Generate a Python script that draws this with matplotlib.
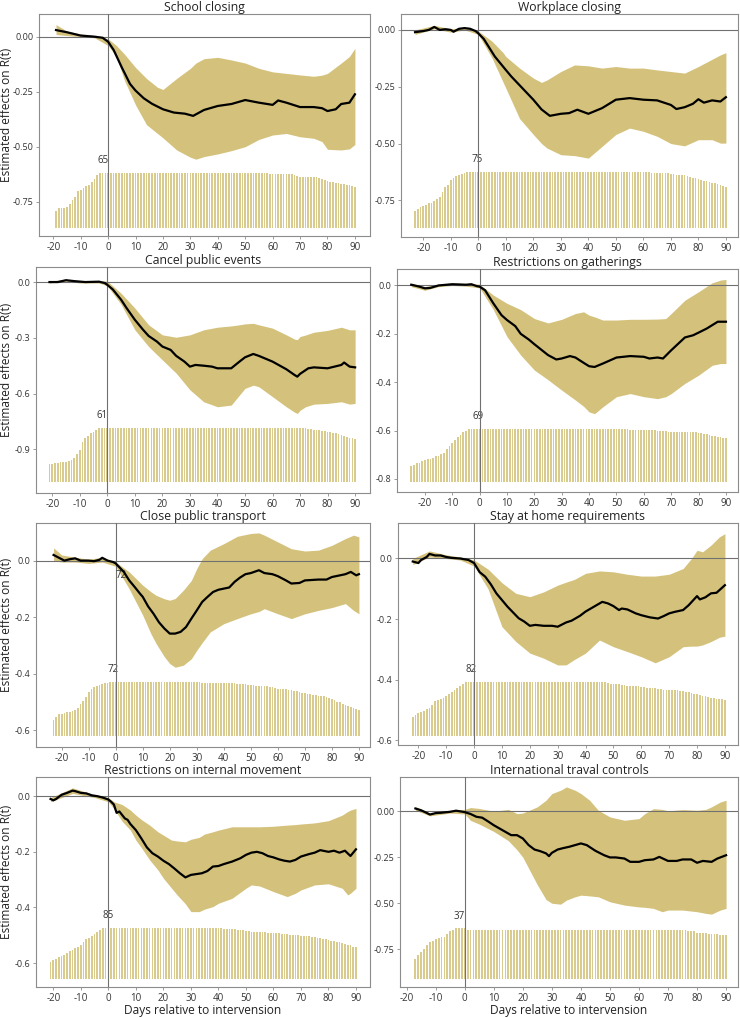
import matplotlib
matplotlib.use("Agg")
import matplotlib.pyplot as plt
import numpy as np

plt.rcParams["font.family"] = ["Open Sans", "DejaVu Sans"]
plt.rcParams["axes.unicode_minus"] = False

W, H = 740, 1018
FILL = "#d4c27c"
BAR = "#d9ca8e"
FRAME = "#8c8c8c"

# ---- School closing ----
school_t = [-19, -15, -10, -5, -2, 0, 2, 5, 8, 10, 13, 16, 20, 24, 28, 31, 35, 40, 45, 50, 55, 60,
            62, 65, 70, 75, 78, 80, 83, 85, 88, 90]
school_mean = [0.03, 0.02, 0.005, 0.0, -0.005, -0.023, -0.06, -0.14, -0.215, -0.245, -0.28, -0.305,
               -0.33, -0.345, -0.35, -0.36, -0.333, -0.315, -0.306, -0.288, -0.30, -0.31,
               -0.29, -0.30, -0.32, -0.32, -0.325, -0.338, -0.33, -0.306, -0.30, -0.262]
school_band_t = [-19, -15, -10, -5, 0, 3, 6, 10, 14, 18, 20, 25, 30, 32, 35, 40, 45, 50, 55, 60, 65,
                 70, 75, 78, 80, 85, 88, 90]
school_hi = [0.055, 0.025, 0.012, 0.005, -0.01, -0.04, -0.08, -0.14, -0.19, -0.23, -0.24, -0.19,
             -0.144, -0.12, -0.10, -0.094, -0.106, -0.12, -0.144, -0.16, -0.167, -0.174, -0.18,
             -0.175, -0.167, -0.12, -0.09, -0.053]
school_lo = [0.01, 0.005, 0.0, -0.005, -0.04, -0.09, -0.2, -0.31, -0.40, -0.44, -0.46, -0.515,
             -0.548, -0.557, -0.545, -0.533, -0.518, -0.50, -0.467, -0.447, -0.44, -0.455, -0.462,
             -0.477, -0.512, -0.515, -0.51, -0.49]
school_first = -19
school_n = [20, 23, 24, 24, 25, 28, 33, 37, 44, 45,
            47, 49, 51, 54, 57, 62, 65, 65, 65, 65,
            65, 65, 65, 65, 65, 65, 65, 65, 65, 65,
            65, 65, 65, 65, 65, 65, 65, 65, 65, 65,
            65, 65, 65, 65, 65, 65, 65, 65, 65, 65,
            65, 65, 65, 65, 65, 65, 65, 65, 65, 65,
            65, 65, 65, 65, 65, 65, 65, 65, 65, 65,
            65, 65, 65, 65, 64, 64, 64, 64, 63, 63,
            63, 63, 63, 63, 63, 63, 63, 62, 61, 60,
            60, 60, 60, 60, 60, 60, 59, 58, 56, 55,
            54, 54, 53, 53, 52, 52, 51, 50, 49, 48]

# ---- Workplace closing ----
work_t = [-23, -20, -18, -16, -14, -12, -10, -9, -7, -5, -3, -1, 0, 2, 6, 10, 12, 16, 20, 23, 26,
          30, 33, 36, 40, 45, 50, 55, 60, 65, 70, 72, 75, 78, 80, 82, 85, 88, 90]
work_mean = [-0.01, -0.005, 0.0, 0.013, 0.0, 0.003, 0.0, -0.008, 0.005, 0.008, 0.005, -0.005,
             -0.015, -0.04, -0.117, -0.176, -0.205, -0.256, -0.307, -0.35, -0.378, -0.369, -0.366,
             -0.351, -0.369, -0.344, -0.307, -0.30, -0.307, -0.31, -0.33, -0.348, -0.34, -0.325,
             -0.305, -0.32, -0.31, -0.315, -0.296]
work_band_t = [-23, -16, -10, -5, 0, 5, 9, 10, 15, 20, 23, 25, 30, 35, 40, 45, 50, 55, 60, 65, 70,
               75, 80, 85, 88, 90]
work_hi = [0.0, 0.02, 0.005, 0.01, -0.005, -0.05, -0.10, -0.117, -0.168, -0.212, -0.231, -0.22,
           -0.183, -0.154, -0.158, -0.168, -0.161, -0.168, -0.168, -0.176, -0.183, -0.19, -0.161,
           -0.129, -0.11, -0.10]
work_lo = [-0.02, 0.005, -0.01, 0.0, -0.02, -0.124, -0.23, -0.256, -0.39, -0.46, -0.50, -0.52,
           -0.549, -0.553, -0.564, -0.512, -0.46, -0.432, -0.446, -0.468, -0.50, -0.51, -0.483,
           -0.483, -0.498, -0.498]
work_first = -23
work_n = [23, 26, 28, 29, 31, 33, 34, 36, 39, 42,
          49, 55, 58, 65, 67, 70, 72, 73, 74, 75,
          75, 75, 75, 75, 75, 75, 75, 75, 75, 75,
          75, 75, 75, 75, 75, 75, 75, 75, 75, 75,
          75, 75, 75, 75, 75, 75, 75, 75, 75, 75,
          75, 75, 75, 75, 75, 75, 75, 75, 75, 75,
          75, 75, 75, 75, 75, 75, 75, 75, 75, 75,
          75, 75, 75, 75, 75, 75, 75, 75, 75, 75,
          75, 75, 75, 75, 75, 75, 74, 74, 74, 74,
          74, 74, 74, 73, 73, 72, 72, 71, 71, 70,
          69, 68, 67, 66, 65, 64, 63, 62, 61, 60,
          59, 58, 57, 55]

# ---- Cancel public events ----
cancel_t = [-21, -18, -15, -12, -8, -3, -1, 0, 2, 5, 7, 10, 13, 15, 18, 20, 23, 25, 28, 30, 32, 35,
            38, 40, 45, 48, 50, 53, 55, 60, 65, 68, 69, 70, 73, 75, 80, 85, 86, 88, 90]
cancel_mean = [0.0, 0.0, 0.01, 0.005, 0.0, 0.002, -0.005, -0.015, -0.04, -0.095, -0.14, -0.203,
               -0.257, -0.29, -0.32, -0.347, -0.365, -0.397, -0.428, -0.455, -0.446, -0.45,
               -0.455, -0.464, -0.464, -0.428, -0.405, -0.387, -0.397, -0.428, -0.469, -0.50,
               -0.509, -0.494, -0.464, -0.459, -0.464, -0.446, -0.433, -0.455, -0.459]
cancel_band_t = [-21, -15, -10, -3, 0, 5, 10, 15, 20, 25, 30, 35, 40, 45, 48, 50, 53, 55, 60, 65,
                 68, 69, 70, 72, 75, 80, 85, 88, 90]
cancel_hi = [0.005, 0.015, 0.005, 0.005, 0.005, -0.06, -0.14, -0.23, -0.284, -0.297, -0.284,
             -0.257, -0.243, -0.236, -0.23, -0.225, -0.222, -0.23, -0.248, -0.284, -0.307, -0.31,
             -0.293, -0.285, -0.27, -0.26, -0.243, -0.257, -0.257]
cancel_lo = [-0.005, 0.005, -0.005, -0.005, -0.02, -0.12, -0.257, -0.347, -0.419, -0.49, -0.58,
             -0.644, -0.671, -0.662, -0.608, -0.572, -0.555, -0.563, -0.617, -0.671, -0.70,
             -0.707, -0.69, -0.671, -0.657, -0.653, -0.644, -0.657, -0.653]
cancel_first = -21
cancel_n = [20, 20, 21, 21, 22, 22, 23, 24, 25, 27,
            31, 36, 45, 50, 52, 55, 56, 59, 61, 61,
            61, 61, 61, 61, 61, 61, 61, 61, 61, 61,
            61, 61, 61, 61, 61, 61, 61, 61, 61, 61,
            61, 61, 61, 61, 61, 61, 61, 61, 61, 61,
            61, 61, 61, 61, 61, 61, 61, 61, 61, 61,
            61, 61, 61, 61, 61, 61, 61, 61, 61, 61,
            61, 61, 61, 61, 61, 61, 61, 61, 61, 61,
            61, 61, 61, 61, 61, 61, 61, 61, 61, 61,
            61, 61, 61, 61, 60, 60, 59, 59, 58, 57,
            57, 56, 56, 55, 55, 54, 53, 52, 51, 50,
            49, 48]

# ---- Restrictions on gatherings ----
gather_t = [-25, -22, -20, -18, -15, -12, -10, -5, -3, -1, 0, 2, 5, 8, 10, 13, 15, 18, 20, 23, 25,
            28, 30, 33, 35, 38, 40, 42, 45, 50, 55, 60, 62, 65, 67, 70, 75, 78, 80, 83, 85, 87, 90]
gather_mean = [0.003, -0.005, -0.012, -0.01, 0.0, 0.003, 0.005, 0.003, 0.005, -0.003, -0.005,
               -0.02, -0.074, -0.123, -0.143, -0.168, -0.2, -0.224, -0.243, -0.27, -0.288, -0.306,
               -0.302, -0.292, -0.298, -0.32, -0.334, -0.337, -0.323, -0.298, -0.292, -0.295,
               -0.302, -0.298, -0.302, -0.268, -0.215, -0.206, -0.195, -0.178, -0.164, -0.15, -0.15]
gather_band_t = [-25, -20, -15, -10, -5, 0, 5, 10, 15, 20, 25, 30, 35, 38, 40, 42, 45, 50, 55, 60,
                 65, 68, 70, 75, 80, 85, 88, 90]
gather_hi = [0.01, -0.005, 0.005, 0.01, 0.008, 0.005, -0.04, -0.074, -0.10, -0.137, -0.155, -0.14,
             -0.116, -0.109, -0.123, -0.13, -0.143, -0.143, -0.14, -0.14, -0.139, -0.137, -0.116,
             -0.061, -0.026, 0.011, 0.022, 0.025]
gather_lo = [-0.005, -0.02, -0.005, 0.0, -0.003, -0.01, -0.1, -0.212, -0.288, -0.35, -0.39,
             -0.433, -0.474, -0.50, -0.523, -0.53, -0.502, -0.46, -0.447, -0.46, -0.468, -0.46,
             -0.447, -0.405, -0.371, -0.33, -0.323, -0.323]
gather_first = -25
gather_n = [21, 22, 24, 25, 27, 28, 29, 30, 31, 33,
            34, 36, 38, 42, 46, 50, 54, 58, 61, 65,
            66, 68, 69, 69, 69, 69, 69, 69, 69, 69,
            69, 69, 69, 69, 69, 69, 69, 69, 69, 69,
            69, 69, 69, 69, 69, 69, 69, 69, 69, 69,
            69, 69, 69, 69, 69, 69, 69, 69, 69, 69,
            69, 69, 69, 68, 68, 68, 68, 68, 68, 68,
            68, 68, 68, 68, 68, 68, 68, 68, 68, 68,
            67, 67, 67, 67, 67, 67, 67, 67, 67, 67,
            66, 66, 66, 66, 65, 65, 65, 65, 65, 65,
            65, 64, 64, 64, 64, 63, 63, 62, 62, 61,
            60, 59, 58, 58, 57, 57]

# ---- Close public transport ----
trans_t = [-23, -21, -19, -17, -15, -13, -10, -8, -6, -5, -3, -1, 0, 1, 3, 5, 7, 9, 10, 12, 14, 16,
           18, 20, 22, 24, 26, 28, 30, 32, 34, 36, 38, 40, 42, 44, 46, 48, 50, 53, 55, 58, 60, 63,
           65, 68, 70, 75, 78, 80, 83, 85, 87, 89, 90]
trans_mean = [0.02, 0.01, 0.0, 0.005, 0.008, 0.0, 0.0, -0.002, 0.003, 0.01, 0.0, -0.005, -0.01,
              -0.02, -0.04, -0.07, -0.093, -0.117, -0.128, -0.162, -0.188, -0.218, -0.24, -0.258,
              -0.258, -0.252, -0.235, -0.205, -0.176, -0.146, -0.128, -0.111, -0.103, -0.099,
              -0.095, -0.075, -0.06, -0.048, -0.044, -0.034, -0.044, -0.048, -0.055, -0.07,
              -0.081, -0.079, -0.07, -0.067, -0.067, -0.058, -0.052, -0.048, -0.04, -0.052, -0.048]
trans_band_t = [-23, -20, -15, -10, -5, 0, 5, 10, 13, 15, 18, 20, 22, 25, 28, 30, 32, 35, 40, 45,
                50, 53, 55, 60, 65, 70, 75, 80, 85, 88, 90]
trans_hi = [0.045, 0.02, 0.012, 0.005, 0.012, -0.005, -0.04, -0.087, -0.11, -0.123, -0.135, -0.14,
            -0.134, -0.105, -0.07, -0.028, 0.007, 0.037, 0.06, 0.086, 0.096, 0.098, 0.09, 0.066,
            0.042, 0.034, 0.037, 0.054, 0.078, 0.09, 0.084]
trans_lo = [0.0, -0.005, -0.005, -0.01, -0.005, -0.02, -0.1, -0.193, -0.258, -0.294, -0.34, -0.364,
            -0.377, -0.37, -0.347, -0.317, -0.29, -0.252, -0.223, -0.205, -0.188, -0.18, -0.17,
            -0.188, -0.205, -0.188, -0.176, -0.166, -0.152, -0.176, -0.188]
trans_first = -23
trans_n = [21, 26, 29, 30, 31, 32, 32, 34, 35, 38,
           43, 47, 52, 59, 63, 65, 66, 68, 69, 70,
           71, 72, 72, 72, 72, 72, 72, 72, 72, 72,
           72, 72, 72, 72, 72, 72, 72, 72, 72, 72,
           72, 72, 72, 72, 72, 72, 72, 72, 72, 72,
           72, 72, 72, 72, 72, 71, 71, 71, 71, 71,
           71, 71, 71, 70, 70, 70, 70, 70, 69, 69,
           69, 69, 68, 68, 68, 67, 67, 67, 66, 66,
           65, 65, 64, 63, 63, 62, 62, 61, 61, 60,
           60, 59, 58, 57, 56, 56, 55, 55, 54, 54,
           53, 52, 51, 49, 48, 46, 45, 43, 42, 40,
           39, 38, 36, 35]

# ---- Stay at home requirements ----
stay_t = [-22, -20, -19, -17, -16, -14, -12, -10, -8, -5, -2, 0, 2, 4, 6, 8, 10, 12, 14, 16, 18, 20,
          22, 25, 28, 30, 33, 35, 38, 40, 43, 46, 48, 50, 52, 53, 55, 58, 60, 63, 66, 68, 70, 72,
          75, 77, 80, 81, 83, 85, 87, 90]
stay_mean = [-0.01, -0.015, -0.005, 0.005, 0.015, 0.01, 0.01, 0.005, 0.002, 0.0, -0.005, -0.015,
             -0.045, -0.06, -0.085, -0.115, -0.137, -0.159, -0.178, -0.197, -0.208, -0.222,
             -0.219, -0.222, -0.222, -0.225, -0.211, -0.205, -0.189, -0.175, -0.159, -0.143,
             -0.148, -0.157, -0.17, -0.165, -0.168, -0.181, -0.187, -0.194, -0.198, -0.19,
             -0.181, -0.176, -0.17, -0.154, -0.124, -0.135, -0.128, -0.115, -0.113, -0.088]
stay_band_t = [-22, -16, -10, -5, 0, 5, 10, 15, 20, 25, 30, 33, 36, 40, 45, 50, 55, 60, 65, 70, 75,
               78, 80, 82, 85, 88, 90]
stay_hi = [0.0, 0.025, 0.012, 0.005, -0.005, -0.035, -0.08, -0.115, -0.126, -0.11, -0.088, -0.078,
           -0.069, -0.049, -0.041, -0.044, -0.052, -0.058, -0.058, -0.052, -0.033, 0.0, 0.027,
           0.022, 0.044, 0.071, 0.082]
stay_lo = [-0.02, 0.005, 0.0, -0.005, -0.025, -0.1, -0.225, -0.274, -0.312, -0.329, -0.351, -0.351,
           -0.333, -0.312, -0.269, -0.291, -0.307, -0.324, -0.344, -0.324, -0.291, -0.289, -0.289,
           -0.285, -0.274, -0.26, -0.256]
stay_first = -22
stay_n = [28, 31, 34, 36, 38, 40, 42, 47, 52, 54,
          55, 57, 60, 63, 67, 70, 72, 75, 78, 82,
          82, 82, 82, 82, 82, 82, 82, 82, 82, 82,
          82, 82, 82, 82, 82, 82, 82, 82, 82, 82,
          82, 82, 82, 82, 82, 82, 82, 82, 82, 82,
          82, 82, 82, 82, 82, 82, 82, 82, 82, 82,
          82, 82, 82, 82, 82, 82, 82, 82, 81, 81,
          80, 79, 79, 78, 78, 77, 77, 76, 76, 75,
          75, 75, 74, 74, 73, 73, 72, 72, 71, 71,
          70, 70, 70, 69, 69, 69, 68, 68, 67, 66,
          65, 64, 63, 62, 61, 60, 59, 58, 57, 56,
          55, 55, 54]

# ---- Restrictions on internal movement ----
inner_t = [-21, -20, -19, -17, -15, -13, -12, -10, -8, -6, -4, -2, 0, 1, 2, 3, 4, 6, 7, 8, 10, 12,
           14, 16, 18, 20, 22, 24, 26, 28, 30, 32, 34, 36, 38, 40, 42, 45, 48, 50, 52, 54, 56, 58,
           60, 62, 64, 66, 68, 70, 73, 75, 77, 80, 82, 84, 86, 88, 90]
inner_mean = [-0.01, -0.015, -0.01, 0.005, 0.012, 0.02, 0.018, 0.012, 0.01, 0.003, 0.0, -0.005,
              -0.012, -0.02, -0.03, -0.06, -0.055, -0.08, -0.085, -0.1, -0.122, -0.152, -0.184,
              -0.205, -0.217, -0.232, -0.244, -0.26, -0.277, -0.292, -0.283, -0.28, -0.277, -0.269,
              -0.253, -0.251, -0.244, -0.235, -0.223, -0.211, -0.203, -0.2, -0.205, -0.215, -0.22,
              -0.227, -0.232, -0.235, -0.229, -0.217, -0.208, -0.203, -0.194, -0.2, -0.196,
              -0.203, -0.196, -0.215, -0.191]
inner_band_t = [-21, -13, -5, 0, 2, 5, 8, 10, 12, 15, 18, 20, 23, 25, 28, 30, 33, 35, 38, 40, 45,
                50, 52, 55, 60, 65, 68, 70, 75, 80, 85, 87, 88, 90]
inner_hi = [-0.005, 0.03, 0.005, -0.005, -0.02, -0.03, -0.05, -0.068, -0.084, -0.104, -0.128,
            -0.14, -0.158, -0.161, -0.164, -0.155, -0.148, -0.136, -0.128, -0.122, -0.11, -0.11,
            -0.11, -0.11, -0.108, -0.104, -0.102, -0.1, -0.096, -0.088, -0.068, -0.055, -0.05,
            -0.044]
inner_lo = [-0.02, 0.01, -0.005, -0.02, -0.045, -0.09, -0.122, -0.158, -0.185, -0.229, -0.265,
            -0.295, -0.331, -0.355, -0.387, -0.415, -0.415, -0.406, -0.397, -0.385, -0.367,
            -0.331, -0.319, -0.323, -0.343, -0.361, -0.349, -0.337, -0.319, -0.315, -0.331,
            -0.355, -0.349, -0.331]
inner_first = -21
inner_n = [28, 32, 34, 36, 38, 40, 43, 46, 49, 52,
           54, 57, 62, 66, 69, 71, 75, 79, 82, 85,
           85, 85, 85, 85, 85, 85, 85, 85, 85, 85,
           85, 85, 85, 85, 85, 85, 85, 85, 85, 85,
           85, 85, 85, 85, 85, 85, 85, 85, 85, 85,
           85, 85, 85, 85, 85, 85, 85, 85, 85, 85,
           85, 85, 85, 84, 84, 84, 83, 83, 82, 82,
           81, 80, 80, 79, 79, 79, 78, 78, 78, 77,
           77, 77, 76, 76, 75, 75, 75, 74, 74, 73,
           73, 72, 72, 71, 71, 70, 70, 69, 68, 67,
           66, 65, 64, 63, 62, 61, 60, 58, 57, 56,
           54, 53]

# ---- International travel controls ----
intl_t = [-17, -15, -13, -12, -10, -8, -5, -3, -1, 0, 2, 4, 6, 8, 10, 12, 14, 16, 18, 20, 22, 24,
          26, 28, 29, 30, 32, 34, 36, 38, 40, 42, 45, 48, 50, 52, 55, 57, 60, 62, 65, 67, 70, 73,
          75, 78, 80, 82, 85, 87, 90]
intl_mean = [0.015, 0.005, -0.01, -0.018, -0.01, -0.008, -0.003, 0.003, -0.002, -0.005, -0.015,
             -0.03, -0.035, -0.055, -0.076, -0.094, -0.112, -0.13, -0.13, -0.148, -0.184, -0.208,
             -0.217, -0.229, -0.244, -0.226, -0.208, -0.2, -0.193, -0.184, -0.175, -0.184, -0.215,
             -0.239, -0.251, -0.251, -0.257, -0.275, -0.275, -0.266, -0.262, -0.248, -0.27, -0.27,
             -0.262, -0.262, -0.28, -0.27, -0.275, -0.257, -0.239]
intl_band_t = [-17, -12, -5, 0, 2, 5, 10, 15, 18, 20, 25, 28, 30, 33, 35, 38, 40, 43, 46, 50, 55,
               60, 62, 65, 68, 70, 75, 80, 83, 85, 88, 90]
intl_hi = [0.025, -0.01, 0.005, 0.01, 0.02, 0.015, 0.0, 0.01, -0.013, -0.01, 0.024, 0.06, 0.096,
           0.114, 0.132, 0.114, 0.096, 0.06, 0.005, -0.031, -0.049, -0.04, -0.013, 0.014, 0.01,
           0.002, 0.009, 0.005, 0.01, 0.024, 0.05, 0.06]
intl_lo = [0.005, -0.025, -0.01, -0.015, -0.05, -0.07, -0.11, -0.16, -0.21, -0.25, -0.40, -0.48,
           -0.50, -0.505, -0.483, -0.465, -0.456, -0.46, -0.465, -0.492, -0.51, -0.52, -0.522,
           -0.528, -0.546, -0.537, -0.537, -0.546, -0.555, -0.559, -0.537, -0.528]
intl_first = -17
intl_n = [15, 18, 20, 22, 25, 27, 28, 29, 30, 31,
          31, 33, 35, 36, 37, 37, 37, 37, 36, 36,
          36, 36, 36, 36, 36, 36, 36, 36, 36, 36,
          36, 36, 36, 36, 36, 36, 36, 36, 36, 36,
          36, 36, 36, 36, 36, 36, 36, 36, 36, 36,
          36, 36, 36, 36, 36, 36, 36, 36, 36, 36,
          36, 36, 36, 36, 36, 36, 36, 36, 36, 36,
          36, 36, 36, 36, 36, 36, 36, 36, 36, 36,
          36, 36, 36, 36, 36, 36, 36, 36, 36, 36,
          36, 36, 36, 36, 35, 35, 35, 34, 34, 34,
          34, 33, 33, 33, 33, 32, 32, 32]

PANELS = [
    ("School closing", school_t, school_mean, school_band_t, school_lo, school_hi, school_first, school_n),
    ("Workplace closing", work_t, work_mean, work_band_t, work_lo, work_hi, work_first, work_n),
    ("Cancel public events", cancel_t, cancel_mean, cancel_band_t, cancel_lo, cancel_hi, cancel_first, cancel_n),
    ("Restrictions on gatherings", gather_t, gather_mean, gather_band_t, gather_lo, gather_hi, gather_first, gather_n),
    ("Close public transport", trans_t, trans_mean, trans_band_t, trans_lo, trans_hi, trans_first, trans_n),
    ("Stay at home requirements", stay_t, stay_mean, stay_band_t, stay_lo, stay_hi, stay_first, stay_n),
    ("Restrictions on internal movement", inner_t, inner_mean, inner_band_t, inner_lo, inner_hi, inner_first, inner_n),
    ("International traval controls", intl_t, intl_mean, intl_band_t, intl_lo, intl_hi, intl_first, intl_n),
]

TICKS_Q = [0.0, -0.25, -0.5, -0.75]
TICKS_3 = [0.0, -0.3, -0.6, -0.9]
TICKS_2 = [0.0, -0.2, -0.4, -0.6, -0.8]

# pixel box (left, top, right, bottom), xlim, ylim, bar base/top, y ticks, label x
LAYOUT = [
    dict(box=(39, 14, 370, 236), xlim=(-25.2, 95.5), ylim=(-0.906, 0.103), bars=(-0.870, -0.618),
         yticks=TICKS_Q, fmt="{:.2f}", label_x=-2.0),
    dict(box=(401, 14, 738, 237), xlim=(-28.1, 94.4), ylim=(-0.911, 0.070), bars=(-0.870, -0.627),
         yticks=TICKS_Q, fmt="{:.2f}", label_x=-0.5),
    dict(box=(36, 267, 370, 493), xlim=(-25.9, 95.4), ylim=(-1.135, 0.081), bars=(-1.076, -0.784),
         yticks=TICKS_3, fmt="{:.1f}", label_x=-2.0),
    dict(box=(397, 269, 738, 492), xlim=(-30.2, 94.4), ylim=(-0.854, 0.068), bars=(-0.812, -0.592),
         yticks=TICKS_2, fmt="{:.1f}", label_x=-0.5),
    dict(box=(36, 523, 370, 747), xlim=(-29.5, 94.1), ylim=(-0.659, 0.133), bars=(-0.621, -0.429),
         yticks=TICKS_2[:4], fmt="{:.1f}", label_x=-1.0),
    dict(box=(398, 523, 738, 745), xlim=(-27.3, 94.7), ylim=(-0.615, 0.117), bars=(-0.585, -0.406),
         yticks=TICKS_2[:4], fmt="{:.1f}", label_x=-1.0),
    dict(box=(36, 777, 370, 987), xlim=(-26.3, 95.1), ylim=(-0.686, 0.069), bars=(-0.657, -0.474),
         yticks=TICKS_2[:4], fmt="{:.1f}", label_x=0.0),
    dict(box=(400, 777, 738, 987), xlim=(-22.3, 94.1), ylim=(-0.955, 0.186), bars=(-0.913, -0.637),
         yticks=TICKS_Q, fmt="{:.2f}", label_x=-2.0),
]

fig = plt.figure(figsize=(W / 100, H / 100), dpi=100)

for idx, (panel, lay) in enumerate(zip(PANELS, LAYOUT)):
    title, t, mean, band_t, lo, hi, first, counts = panel
    left, top, right, bottom = lay["box"]
    ax = fig.add_axes([left / W, 1 - bottom / H, (right - left) / W, (bottom - top) / H])

    counts = np.asarray(counts, dtype=float)
    days = np.arange(first, first + len(counts))
    base, peak = lay["bars"]
    ax.bar(days, counts / counts.max() * (peak - base), bottom=base, width=0.62,
           color=BAR, linewidth=0, zorder=1)
    ax.annotate(str(int(counts.max())), (lay["label_x"], peak), xytext=(0, 5),
                textcoords="offset points", ha="center", va="bottom", fontsize=7, color="#333333")

    ax.fill_between(band_t, lo, hi, color=FILL, linewidth=0, zorder=2)
    ax.axhline(0, color="#707070", lw=0.8, zorder=3)
    ax.axvline(0, color="#707070", lw=0.8, zorder=3)
    ax.plot(t, mean, color="black", lw=1.6, zorder=4, solid_joinstyle="round")

    if title == "Close public transport":
        # stray count label left over near the start of the curve
        ax.text(1.8, -0.052, str(int(counts.max())), ha="center", va="center",
                fontsize=7, color="#333333", zorder=3)

    ax.set_xlim(*lay["xlim"])
    ax.set_ylim(*lay["ylim"])
    ax.set_xticks(range(-20, 91, 10))
    ax.set_yticks(lay["yticks"])
    ax.set_yticklabels([lay["fmt"].format(v) for v in lay["yticks"]])
    ax.tick_params(length=2.5, width=0.6, color=FRAME, labelcolor="#333333")
    ax.tick_params(axis="x", labelsize=7, pad=1.5)
    ax.tick_params(axis="y", labelsize=6.5, pad=1.5)
    for sp in ax.spines.values():
        sp.set_color(FRAME)
        sp.set_linewidth(0.8)

    ax.set_title(title, fontsize=8.8, color="#222222", pad=1.5)
    if idx % 2 == 0:
        fig.text(7 / W, 1 - ((top + bottom) / 2 - 10) / H, "Estimated effects on R(t)",
                 rotation=90, ha="center", va="center", fontsize=8.6, color="#222222")
    if idx >= 6:
        ax.set_xlabel("Days relative to intervension", fontsize=8.6, color="#222222", labelpad=0)

fig.savefig("out.png", dpi=100)
